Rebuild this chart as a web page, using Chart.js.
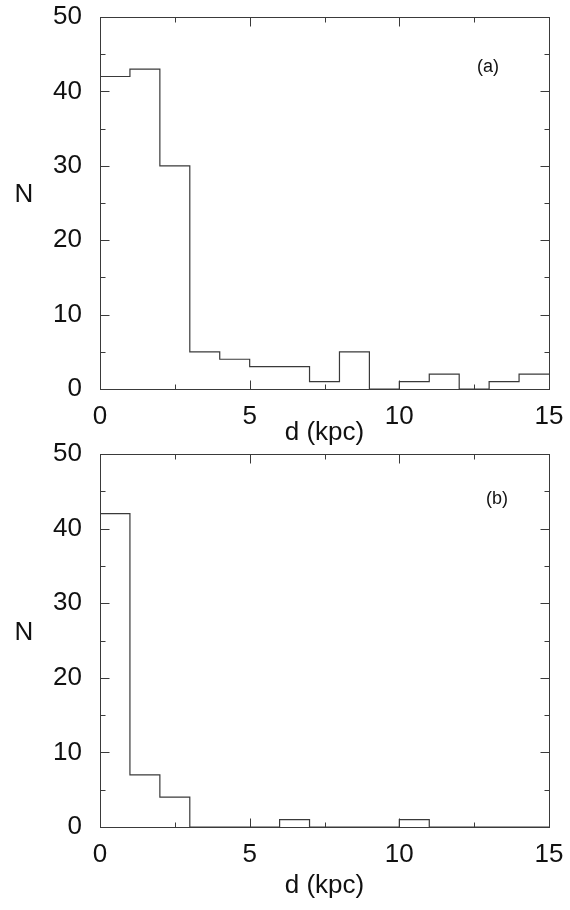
<!DOCTYPE html>
<html>
<head>
<meta charset="utf-8">
<script src="https://cdn.jsdelivr.net/npm/chart.js@4.4.1/dist/chart.umd.min.js"></script>
<style>
  html, body { margin: 0; padding: 0; background: #fff; }
  #wrap { position: relative; width: 570px; height: 910px; }
  canvas { position: absolute; left: 0; }
  #chartA { top: 0; }
  #chartB { top: 440px; }
</style>
</head>
<body>
<div id="wrap">
  <canvas id="chartA" width="570" height="450"></canvas>
  <canvas id="chartB" width="570" height="470"></canvas>
</div>
<script>
// ===== Data =====
const binLeft = [0, 1, 2, 3, 4, 5, 6, 7, 8, 9, 10, 11, 12, 13, 14];
const binWidth = 1;
const countsA = [42, 43, 30, 5, 4, 3, 3, 1, 5, 0, 1, 2, 0, 1, 2];
const countsB = [42, 7, 4, 0, 0, 0, 1, 0, 0, 0, 1, 0, 0, 0, 0];
const xTickValues = [0, 5, 10, 15];
const yTickValues = [0, 10, 20, 30, 40, 50];
const xLabel = "d (kpc)";
const yLabel = "N";

const FONT = "'Liberation Sans', Arial, sans-serif";
const INK = "#3a3a3a";
const MAJOR = 9;
const MINOR = 5;
const BIG = 26;

// ===== Helper: histogram outline as step points =====
function stepPoints(counts) {
  const pts = binLeft.map((x, i) => ({ x, y: counts[i] }));
  const last = binLeft.length - 1;
  pts.push({ x: binLeft[last] + binWidth, y: counts[last] });
  return pts;
}

// ===== Plugin: box frame, inward ticks, N and panel tag =====
const frameTicks = {
  id: 'frameTicks',
  afterDraw(chart, args, opts) {
    const { ctx, chartArea: a, scales: { x, y } } = chart;
    const L = Math.round(a.left) + 0.5, R = Math.round(a.right) + 0.5;
    const T = Math.round(a.top) + 0.5, B = Math.round(a.bottom) + 0.5;
    const seg = (x1, y1, x2, y2) => {
      ctx.beginPath(); ctx.moveTo(x1, y1); ctx.lineTo(x2, y2); ctx.stroke();
    };
    ctx.save();
    ctx.strokeStyle = INK;
    ctx.lineWidth = 1;
    ctx.strokeRect(L, T, R - L, B - T);

    x.ticks.forEach((t, i) => {
      const px = Math.round(x.getPixelForValue(t.value)) + 0.5;
      seg(px, B, px, B - MAJOR);
      seg(px, T, px, T + MAJOR);
      if (i < x.ticks.length - 1) {
        const m = Math.round(x.getPixelForValue((t.value + x.ticks[i + 1].value) / 2)) + 0.5;
        seg(m, B, m, B - MINOR);
        seg(m, T, m, T + MINOR);
      }
    });
    y.ticks.forEach((t, i) => {
      const py = Math.round(y.getPixelForValue(t.value)) + 0.5;
      seg(L, py, L + MAJOR, py);
      seg(R, py, R - MAJOR, py);
      if (i < y.ticks.length - 1) {
        const m = Math.round(y.getPixelForValue((t.value + y.ticks[i + 1].value) / 2)) + 0.5;
        seg(L, m, L + MINOR, m);
        seg(R, m, R - MINOR, m);
      }
    });

    ctx.fillStyle = "#111";
    ctx.textAlign = "center";
    ctx.textBaseline = "middle";
    ctx.font = BIG + "px " + FONT;
    ctx.fillText(yLabel, 24, (a.top + a.bottom) / 2 - 8);
    ctx.font = "18px " + FONT;
    ctx.fillText(opts.tag, opts.tagX, a.top + opts.tagDy);
    ctx.restore();
  }
};

// ===== Build one panel =====
function makePanel(id, counts, p) {
  const ctx = document.getElementById(id).getContext("2d");
  return new Chart(ctx, {
    type: "line",
    data: {
      datasets: [{
        data: stepPoints(counts),
        stepped: "before",
        borderColor: INK,
        borderWidth: 1.2,
        pointRadius: 0,
        fill: false
      }]
    },
    options: {
      responsive: false,
      animation: false,
      devicePixelRatio: 1,
      layout: { padding: { left: 0, right: 21, top: p.top, bottom: 0 } },
      plugins: {
        legend: { display: false },
        tooltip: { enabled: false },
        frameTicks: { tag: p.tag, tagX: p.tagX, tagDy: p.tagDy }
      },
      scales: {
        x: {
          type: "linear",
          min: 0, max: 15,
          afterBuildTicks: s => { s.ticks = xTickValues.map(v => ({ value: v })); },
          afterFit: s => { s.height = p.xHeight; s.paddingLeft = 0; s.paddingRight = 0; },
          grid: { display: false, drawTicks: false },
          border: { display: false },
          ticks: { padding: 12, color: "#111", font: { family: FONT, size: BIG }, maxRotation: 0 },
          title: {
            display: true, text: xLabel, color: "#111",
            font: { family: FONT, size: BIG },
            padding: { top: 0, bottom: p.titlePad }
          }
        },
        y: {
          type: "linear",
          min: 0, max: 50,
          afterBuildTicks: s => { s.ticks = yTickValues.map(v => ({ value: v })); },
          afterFit: s => { s.width = 100; s.paddingTop = 0; s.paddingBottom = 0; },
          grid: { display: false, drawTicks: false },
          border: { display: false },
          ticks: { padding: 18, color: "#111", font: { family: FONT, size: BIG } }
        }
      }
    },
    plugins: [frameTicks]
  });
}

makePanel("chartA", countsA, { top: 17, xHeight: 61, titlePad: 2, tag: "(a)", tagX: 488, tagDy: 50 });
makePanel("chartB", countsB, { top: 14, xHeight: 83, titlePad: 9, tag: "(b)", tagX: 497, tagDy: 45 });
</script>
</body>
</html>
